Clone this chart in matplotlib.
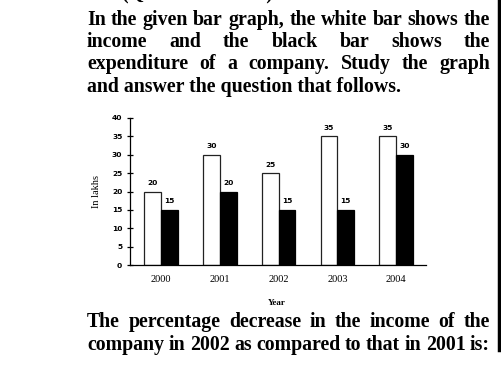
import matplotlib
matplotlib.use("Agg")
import matplotlib.pyplot as plt
import numpy as np

years = ["2000", "2001", "2002", "2003", "2004"]
income = [20, 30, 25, 35, 35]
expenditure = [15, 20, 15, 15, 30]
yticks = [0, 5, 10, 15, 20, 25, 30, 35, 40]

header = "(Question 1 of 10)"
top_lines = [
    ("In the given bar graph, the white bar shows the", True),
    ("income and the black bar shows the", True),
    ("expenditure of a company. Study the graph", True),
    ("and answer the question that follows.", False),
]
bottom_lines = [
    ("The percentage decrease in the income of the", True),
    ("company in 2002 as compared to that in 2001 is:", True),
]

W, H = 502, 366
fig = plt.figure(figsize=(W / 100, H / 100), dpi=100)
fig.patch.set_facecolor("white")

ax = fig.add_axes([130 / W, 1 - 265 / H, (426 - 130) / W, (265 - 118) / H])
x = np.arange(len(years))
bw = 0.285
ax.bar(x - bw / 2, income, bw, color="white", edgecolor="#222222", linewidth=0.9)
ax.bar(x + bw / 2, expenditure, bw, color="black", edgecolor="black", linewidth=0.9)

lab_font = dict(family="DejaVu Sans", fontsize=5.4, fontweight="bold")
for xi, v in zip(x, income):
    ax.annotate(str(v), (xi - bw / 2, v), xytext=(0, 4), textcoords="offset points",
                ha="center", va="bottom", **lab_font)
for xi, v in zip(x, expenditure):
    ax.annotate(str(v), (xi + bw / 2, v), xytext=(0, 4), textcoords="offset points",
                ha="center", va="bottom", **lab_font)

ax.set_xlim(-0.53, 4.51)
ax.set_ylim(0, 40)
ax.set_yticks(yticks)
ax.set_yticklabels([str(t) for t in yticks], **lab_font)
ax.set_xticks(x)
ax.set_xticklabels(years, family="Liberation Serif", fontsize=7.5)
ax.tick_params(axis="x", length=0, pad=7)
ax.tick_params(axis="y", direction="inout", length=5, width=0.9, pad=3)
for s in ["top", "right"]:
    ax.spines[s].set_visible(False)
ax.spines["left"].set_linewidth(0.9)
ax.spines["bottom"].set_linewidth(0.9)
ax.set_ylabel("In lakhs", family="Liberation Serif", fontsize=7.5, labelpad=8)
ax.set_xlabel("Year", family="Liberation Serif", fontsize=6.5, fontweight="bold")
ax.xaxis.set_label_coords((277 - 130) / (426 - 130), -(303 - 265) / (265 - 118))
ax.xaxis.label.set_va("center")

# question text, justified
fig.canvas.draw()
renderer = fig.canvas.get_renderer()
font = dict(family="Liberation Serif", fontweight="bold")

def measure(s, size):
    t = fig.text(0, 0, s, fontsize=size, **font)
    w = t.get_window_extent(renderer).width
    t.remove()
    return w

# choose font size so the last top line spans ~315 px
size = 10 * 315 / measure(top_lines[3][0], 10)

def draw_line(s, y_px, justify, x0=87, x1=490):
    words = s.split(" ")
    if not justify:
        fig.text(x0 / W, 1 - y_px / H, s, fontsize=size, va="baseline", ha="left", **font)
        return
    widths = [measure(w, size) for w in words]
    gap = (x1 - x0 - sum(widths)) / (len(words) - 1)
    cx = x0
    for w, wd in zip(words, widths):
        fig.text(cx / W, 1 - y_px / H, w, fontsize=size, va="baseline", ha="left", **font)
        cx += wd + gap

fig.text(122 / W, 1 + 2 / H, header, fontsize=size, va="baseline", ha="left", **font)
for (s, j), y in zip(top_lines, [25, 47, 69, 92]):
    draw_line(s, y, j)
for (s, j), y in zip(bottom_lines, [327, 350]):
    draw_line(s, y, j)

# right border line of the screenshot
fig.add_artist(plt.Line2D([499.5 / W, 499.5 / W], [1, 1 - 350 / H], color="black",
                          linewidth=2.5, transform=fig.transFigure))

fig.savefig("out.png", dpi=100)
